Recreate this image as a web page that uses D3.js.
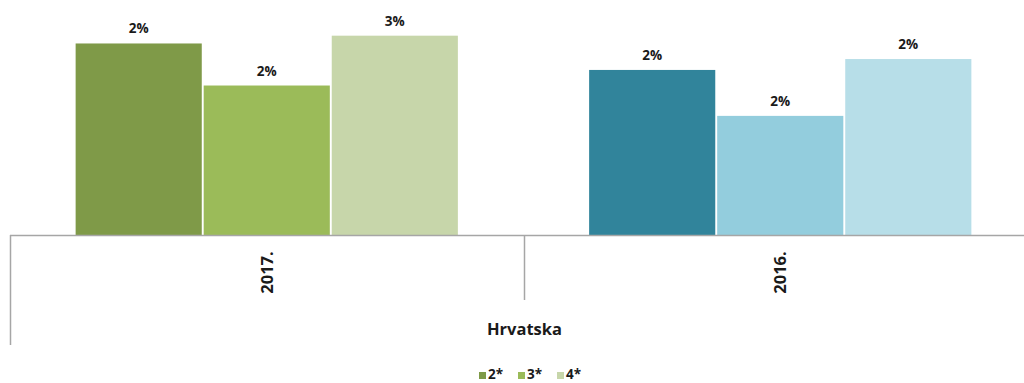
<!DOCTYPE html>
<html>
<head>
<meta charset="utf-8">
<script src="https://cdn.jsdelivr.net/npm/d3@7"></script>
<style>
  html, body { margin: 0; padding: 0; background: #fff; }
  svg { display: block; }
  text { font-family: "Open Sans", Lato, sans-serif; font-weight: bold; fill: #1a1a1a; }
</style>
</head>
<body>
<svg id="chart" width="1024" height="383"></svg>
<script>
// ---- data ----
const categories = ["2017.", "2016."];
const seriesNames = ["2*", "3*", "4*"];
const values2star = [0.0246, 0.0212];
const values3star = [0.0192, 0.0153];
const values4star = [0.0256, 0.0226];
const groupTitle = "Hrvatska";

// ---- styles ----
const palettes = {
  "2017.": ["#7f9a48", "#9bbb59", "#c7d6aa"],
  "2016.": ["#31849b", "#93cddd", "#b7dee8"]
};
const legendColors = palettes["2017."];

const seriesValues = [values2star, values3star, values4star];
const rows = [];
categories.forEach((c, ci) => {
  seriesNames.forEach((s, si) => {
    rows.push({ cat: c, ser: s, si: si, value: seriesValues[si][ci] });
  });
});

const svg = d3.select("#chart");
const baseY = 235;

const x0 = d3.scaleBand().domain(categories).range([10, 1037]).paddingInner(0).paddingOuter(0);
const x1 = d3.scaleBand().domain(seriesNames).range([0, x0.bandwidth()])
  .paddingInner(0.015).paddingOuter(0.5125);
const y = d3.scaleLinear().domain([0, 0.028]).range([baseY, 17]);
const fmt = d3.format(".0%");

// bars
svg.append("g").selectAll("rect").data(rows).join("rect")
  .attr("x", d => x0(d.cat) + x1(d.ser))
  .attr("y", d => y(d.value))
  .attr("width", x1.bandwidth())
  .attr("height", d => baseY - y(d.value))
  .attr("fill", d => palettes[d.cat][d.si]);

// value labels
svg.append("g").selectAll("text").data(rows).join("text")
  .attr("x", d => x0(d.cat) + x1(d.ser) + x1.bandwidth() / 2)
  .attr("y", d => y(d.value) - 10)
  .attr("text-anchor", "middle")
  .attr("font-size", 13.5)
  .text(d => fmt(d.value));

// axis lines
const axisColor = "#a6a6a6";
svg.append("line").attr("x1", 10).attr("x2", 1024).attr("y1", baseY + 0.5).attr("y2", baseY + 0.5)
  .attr("stroke", axisColor).attr("stroke-width", 1.5);
svg.append("line").attr("x1", 10.5).attr("x2", 10.5).attr("y1", baseY).attr("y2", 345)
  .attr("stroke", axisColor).attr("stroke-width", 1.5);
svg.append("g").selectAll("line").data(categories.slice(1)).join("line")
  .attr("x1", d => Math.round(x0(d)) + 0.5).attr("x2", d => Math.round(x0(d)) + 0.5)
  .attr("y1", baseY).attr("y2", 300)
  .attr("stroke", axisColor).attr("stroke-width", 1.5);

// category labels (rotated)
svg.append("g").selectAll("text").data(categories).join("text")
  .attr("transform", d => `translate(${x0(d) + x0.bandwidth() / 2 + 6},272.5) rotate(-90)`)
  .attr("text-anchor", "middle")
  .attr("font-size", 16.5)
  .text(d => d);

// group title
svg.append("text")
  .attr("x", 524.5).attr("y", 335)
  .attr("text-anchor", "middle")
  .attr("font-size", 16.5)
  .text(groupTitle);

// legend
const lg = svg.append("g").attr("transform", "translate(479,0)");
const items = lg.selectAll("g").data(seriesNames).join("g")
  .attr("transform", (d, i) => `translate(${i * 39},0)`);
items.append("rect").attr("x", 0).attr("y", 372).attr("width", 7).attr("height", 7)
  .attr("fill", (d, i) => legendColors[i]);
items.append("text").attr("x", 9).attr("y", 378.5).attr("font-size", 13.5).text(d => d);
</script>
</body>
</html>
